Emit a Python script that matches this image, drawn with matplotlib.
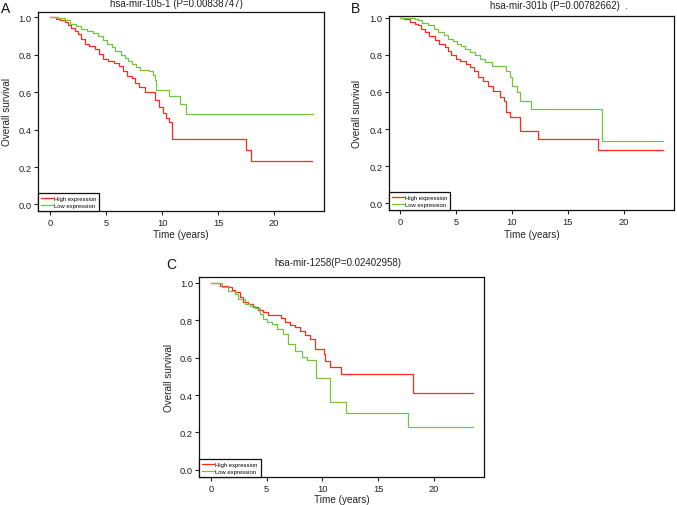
import matplotlib
matplotlib.use("Agg")
import matplotlib.pyplot as plt
from matplotlib.lines import Line2D

plt.rcParams['font.family'] = ['Liberation Sans', 'DejaVu Sans']

RED = '#FF2A1F'
GREEN = '#76C340'

# ---- Panel A: hsa-mir-105-1 ----
a_high_t = [0, 0.5, 0.9, 1.3, 1.6, 1.9, 2.2, 2.5, 2.8, 3.1, 3.5, 4.0, 4.4, 4.7, 5.2, 5.7, 6.2, 6.5, 6.9, 7.3,
            7.6, 7.9, 8.5, 9.35, 9.7, 10.1, 10.35, 10.6, 10.85, 17.5, 17.9, 23.4]
a_high_s = [1.0, 0.993, 0.985, 0.975, 0.962, 0.945, 0.93, 0.91, 0.885, 0.86, 0.845, 0.83, 0.805, 0.778, 0.768,
            0.758, 0.74, 0.715, 0.688, 0.676, 0.648, 0.63, 0.60, 0.56, 0.52, 0.49, 0.465, 0.44, 0.35, 0.29, 0.234, 0.234]
a_low_t = [0, 0.7, 1.3, 1.8, 2.3, 2.8, 3.3, 3.8, 4.3, 4.7, 5.1, 5.5, 5.8, 6.3, 6.7, 7.0, 7.3, 7.7, 8.0, 8.8,
           9.2, 9.4, 9.5, 10.65, 11.6, 12.1, 23.5]
a_low_s = [1.0, 0.995, 0.985, 0.966, 0.955, 0.94, 0.928, 0.915, 0.903, 0.88, 0.86, 0.84, 0.822, 0.80, 0.786,
           0.765, 0.75, 0.735, 0.72, 0.712, 0.694, 0.667, 0.612, 0.58, 0.535, 0.483, 0.483]

# ---- Panel B: hsa-mir-301b ----
b_high_t = [0, 0.4, 0.9, 1.3, 1.6, 1.9, 2.2, 2.6, 3.1, 3.5, 4.0, 4.3, 4.6, 5.0, 5.4, 5.9, 6.3, 6.6, 7.0, 7.45,
            7.9, 8.35, 8.9, 9.3, 9.45, 9.85, 10.75, 12.3, 17.7, 23.55]
b_high_s = [1.0, 0.99, 0.977, 0.968, 0.958, 0.94, 0.923, 0.90, 0.877, 0.86, 0.841, 0.82, 0.796, 0.778, 0.764,
            0.751, 0.733, 0.715, 0.68, 0.661, 0.634, 0.607, 0.571, 0.553, 0.49, 0.463, 0.39, 0.346, 0.288, 0.288]
b_low_t = [0, 0.9, 1.3, 1.6, 2.0, 2.5, 3.0, 3.4, 3.9, 4.3, 4.7, 5.1, 5.5, 5.8, 6.3, 6.7, 7.2, 7.6, 8.2, 9.45,
           9.8, 10.05, 10.45, 10.7, 11.7, 18.1, 23.55]
b_low_s = [1.0, 0.995, 0.99, 0.985, 0.97, 0.958, 0.94, 0.923, 0.905, 0.886, 0.872, 0.859, 0.845, 0.832, 0.815,
           0.796, 0.778, 0.760, 0.742, 0.715, 0.68, 0.634, 0.598, 0.553, 0.508, 0.337, 0.337]

# ---- Panel C: hsa-mir-1258 ----
c_high_t = [0, 0.8, 1.55, 1.9, 2.15, 2.6, 2.9, 3.3, 3.8, 4.2, 4.7, 5.15, 6.3, 6.65, 7.1, 7.55, 8.0, 8.45, 8.9,
            9.35, 10.1, 10.25, 10.7, 11.65, 18.1, 23.55]
c_high_s = [1.0, 0.986, 0.977, 0.965, 0.95, 0.923, 0.897, 0.885, 0.87, 0.857, 0.843, 0.828, 0.81, 0.789, 0.775,
            0.762, 0.744, 0.721, 0.70, 0.646, 0.619, 0.584, 0.548, 0.512, 0.409, 0.409]
c_low_t = [0, 0.96, 1.55, 2.15, 2.45, 3.05, 3.5, 3.95, 4.4, 4.7, 5.0, 5.45, 5.9, 6.5, 6.95, 7.55, 8.15, 8.6,
           9.45, 10.7, 12.1, 17.7, 23.5]
c_low_s = [1.0, 0.977, 0.959, 0.941, 0.914, 0.888, 0.876, 0.864, 0.834, 0.807, 0.79, 0.78, 0.753, 0.726, 0.673,
           0.637, 0.602, 0.59, 0.49, 0.364, 0.302, 0.23, 0.23]

x_ticks = [0, 5, 10, 15, 20]
y_ticks = [0.0, 0.2, 0.4, 0.6, 0.8, 1.0]
legend_labels = ['High expression', 'Low expression']

W, H = 677, 506
fig = plt.figure(figsize=(W / 100, H / 100), dpi=100)


def px_axes(left, top, right, bottom):
    return fig.add_axes([left / W, 1 - bottom / H, (right - left) / W, (bottom - top) / H])


panels = [
    dict(box=(38, 12.7, 324, 212), xlim=(-1.07, 24.45), ylim=(-0.035, 1.031),
         high=(a_high_t, a_high_s), low=(a_low_t, a_low_s),
         title='hsa-mir-105-1 (P=0.00838747)', title_x=0.485, title_dy=8.5,
         letter='A', letter_xy=(6, 9), xlab_dy=23.0, ylab_dx=31.0),
    dict(box=(389, 16.7, 674, 211), xlim=(-0.98, 24.5), ylim=(-0.035, 1.01),
         high=(b_high_t, b_high_s), low=(b_low_t, b_low_s),
         title='hsa-mir-301b (P=0.00782662)  .', title_x=0.596, title_dy=10.5,
         letter='B', letter_xy=(356, 9), xlab_dy=24.0, ylab_dx=31.5),
    dict(box=(199.3, 278, 484, 477.7), xlim=(-1.05, 24.5), ylim=(-0.0375, 1.032),
         high=(c_high_t, c_high_s), low=(c_low_t, c_low_s),
         title='hsa-mir-1258(P=0.02402958)', title_x=0.485, title_dy=14.5,
         letter='C', letter_xy=(171.5, 265), xlab_dy=22.0, ylab_dx=30.0),
]

for p in panels:
    l, t, r, b = p['box']
    ax = px_axes(l, t, r, b)
    ax.plot(p['high'][0], p['high'][1], drawstyle='steps-post', color=RED, lw=0.9)
    ax.plot(p['low'][0], p['low'][1], drawstyle='steps-post', color=GREEN, lw=0.9)
    ax.set_xlim(*p['xlim'])
    ax.set_ylim(*p['ylim'])
    ax.set_xticks(x_ticks)
    ax.set_yticks(y_ticks)
    ax.set_yticklabels([f'{v:.1f}' for v in y_ticks])
    ax.tick_params(axis='both', direction='out', length=3, width=0.8, labelsize=6.7,
                   colors='#222222', pad=2)
    ax.tick_params(axis='y', pad=1.5)
    for sp in ax.spines.values():
        sp.set_linewidth(0.9)
        sp.set_color('#111111')
    # axis labels placed by their centres
    ax.text(0.5, -p['xlab_dy'] / (b - t), 'Time (years)', transform=ax.transAxes,
            ha='center', va='center', fontsize=7.2, color='#222222')
    ax.text(-p['ylab_dx'] / (r - l), 0.5, 'Overall survival', transform=ax.transAxes,
            ha='center', va='center', rotation=90, fontsize=7.2, color='#222222')
    ax.text(p['title_x'], 1 + p['title_dy'] / (b - t), p['title'], transform=ax.transAxes,
            ha='center', va='center', fontsize=7, color='#222222')
    fig.text(p['letter_xy'][0] / W, 1 - p['letter_xy'][1] / H, p['letter'],
             ha='center', va='center', fontsize=10, color='#111111')
    handles = [Line2D([], [], color=RED, lw=0.9), Line2D([], [], color=GREEN, lw=0.9)]
    leg = ax.legend(handles, legend_labels, loc='lower left', bbox_to_anchor=(0, 0),
                    borderaxespad=0, fontsize=4.2, handlelength=2.0, handletextpad=0.25,
                    labelspacing=0.35, borderpad=0.5, fancybox=False, framealpha=1,
                    edgecolor='#111111')
    leg.get_frame().set_linewidth(0.9)

fig.savefig('out.png', dpi=100)
